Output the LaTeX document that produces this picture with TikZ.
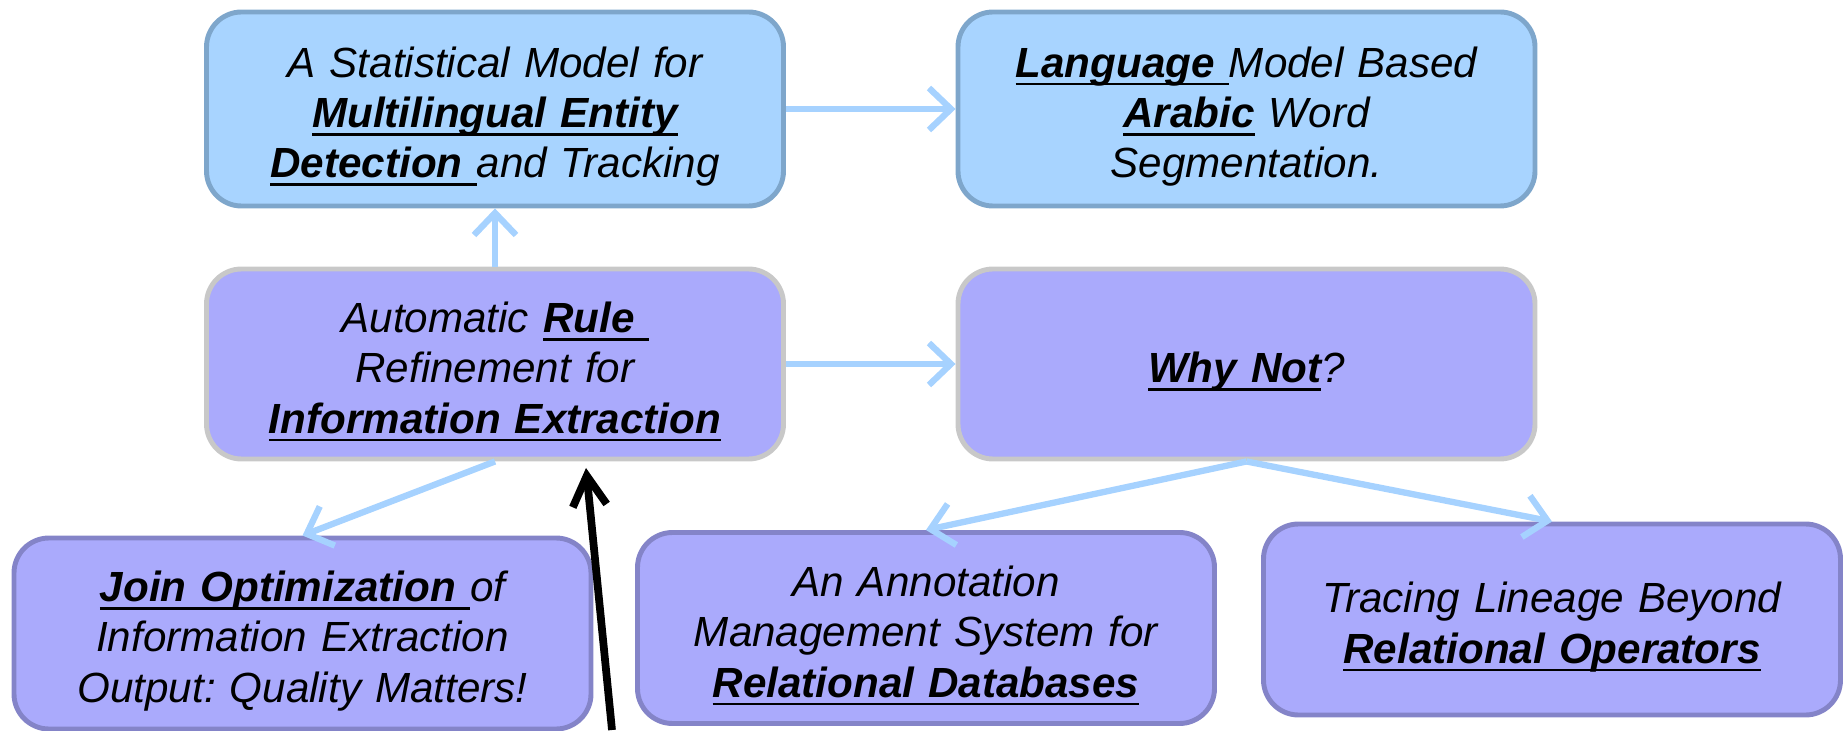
\documentclass[tikz,border=0pt]{standalone}
\usepackage{fontspec}
\setmainfont{Liberation Sans}
\usetikzlibrary{arrows.meta}
\frenchspacing

\definecolor{topblue}{RGB}{168,212,255}
\definecolor{topline}{RGB}{126,166,203}
\definecolor{lav}{RGB}{170,170,252}
\definecolor{midline}{RGB}{200,200,200}
\definecolor{botline}{RGB}{132,132,200}
\definecolor{linkblue}{RGB}{166,210,255}

% bold, underlined key words (rule at a fixed depth)
\newsavebox{\keybox}
\newcommand{\key}[1]{\sbox{\keybox}{\bfseries #1}\leavevmode\rlap{\rule[-2.3pt]{\wd\keybox}{0.7pt}}\usebox{\keybox}}

\begin{document}
\begin{tikzpicture}[thick,
    paper/.style = {draw, rounded corners=3.5mm, line width=1.4pt, minimum width=5.77cm,
                    text width=5.5cm, align=center, inner sep=0pt,
                    font=\fontsize{12}{14.3}\selectfont\itshape,
                    execute at begin node={\rule{0pt}{13pt}}},
    topbox/.style = {paper, fill=topblue, draw=topline, minimum height=1.94cm},
    midbox/.style = {paper, fill=lav, draw=midline, minimum height=1.90cm},
    botbox/.style = {paper, fill=lav, draw=botline, minimum height=1.91cm},
    link/.style = {draw=linkblue, line width=1.8pt, -{Straight Barb[length=2.2mm,width=4.2mm]}},
    pointer/.style = {draw=black, line width=2.2pt, -{Straight Barb[length=3mm,width=3.4mm]}}]
        \useasboundingbox (0,0) rectangle (18.47,7.30);
        % top row
        \node[topbox] (stat) at (4.95,6.21)   {A Statistical Model for\\ \key{Multilingual Entity}\\ \key{Detection }and Tracking};
        \node[topbox] (lang) at (12.465,6.21) {\key{Language }Model Based\\ \key{Arabic} Word\\ Segmentation.};
        % middle row
        \node[midbox] (rule)   at (4.95,3.66)   {Automatic \key{Rule }\\ Refinement for\\ \key{Information Extraction}};
        \node[midbox] (whynot) at (12.465,3.66) {\key{Why Not}?};
        % bottom row
        \node[botbox] (join)  at (3.025,0.965) {\key{Join Optimization }of\\ Information Extraction\\ Output: Quality Matters!};
        \node[botbox] (annot) at (9.26,1.02)   {An Annotation\\ Management System for\\ \key{Relational Databases}};
        \node[botbox] (trace) at (15.52,1.105) {Tracing Lineage Beyond\\ \key{Relational Operators}};
        % links
        \draw[link] (stat) -- (lang);
        \draw[link] (rule) -- (stat);
        \draw[link] (rule) -- (whynot);
        \draw[link] (rule.south) -- (join.north);
        \draw[link] (whynot.south) -- (annot.north);
        \draw[link] (whynot.south) -- (trace.north);
        % black pointer
        \coordinate (tail) at (6.12,0);
        \coordinate (head) at (5.86,2.62);
        \draw[pointer] (tail) -- (head);
    \end{tikzpicture}
\end{document}
